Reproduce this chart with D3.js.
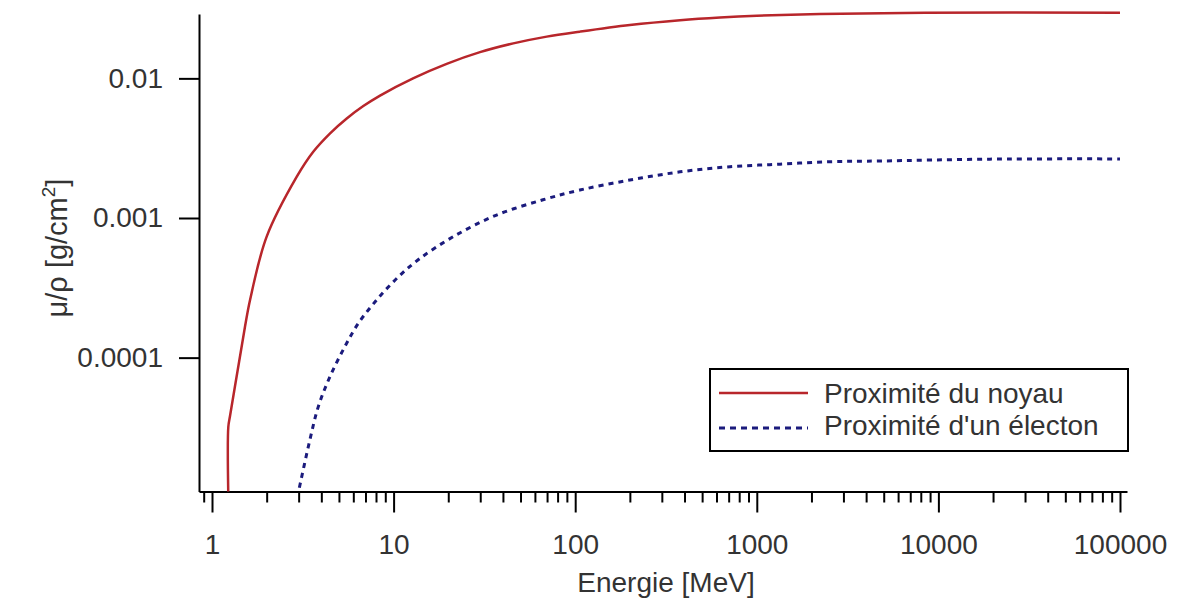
<!DOCTYPE html>
<html>
<head>
<meta charset="utf-8">
<script src="https://cdn.jsdelivr.net/npm/d3@7"></script>
<style>
  body { margin: 0; background: #fff; }
  text { font-family: "Liberation Sans", Arial, sans-serif; fill: #333; }
</style>
</head>
<body>
<div id="graph"></div>
<script>
var width = 1179;
var height = 601;

// energie [MeV] / mu/rho [g/cm2]
var noyauE  = [1.23, 1.23, 1.256, 1.395, 1.52, 1.62, 2.0, 2.93, 3.61, 4.47, 5.52, 6.81, 8.42, 12.8, 19.6, 29.9, 45.6, 69.7, 106, 200, 378, 627, 1000, 2230, 8440, 100000];
var noyauMu = [1.0e-5, 3.2e-5, 3.8e-5, 8.6e-5, 1.67e-4, 2.59e-4, 7.35e-4, 1.975e-3, 2.98e-3, 4.04e-3, 5.16e-3, 6.33e-3, 7.53e-3, 0.0100, 0.0127, 0.0154, 0.0178, 0.0199, 0.0216, 0.0241, 0.0261, 0.0273, 0.0281, 0.0289, 0.0295, 0.0295];

var electonE  = [2.95, 3.46, 3.85, 4.46, 5.39, 6.39, 7.89, 10.2, 13.6, 21.3, 36.9, 66.5, 106, 200, 378, 712, 1342, 2530, 4770, 19200, 100000];
var electonMu = [1.0e-5, 2.58e-5, 4.46e-5, 7.3e-5, 1.2e-4, 1.76e-4, 2.5e-4, 3.6e-4, 5.0e-4, 7.35e-4, 1.05e-3, 1.35e-3, 1.585e-3, 1.87e-3, 2.14e-3, 2.33e-3, 2.43e-3, 2.53e-3, 2.56e-3, 2.64e-3, 2.65e-3];

var xMajor = [1, 10, 100, 1000, 10000, 100000];
var xMinor = [0.9, 2, 3, 4, 5, 6, 7, 8, 9, 20, 30, 40, 50, 60, 70, 80, 90,
  200, 300, 400, 500, 600, 700, 800, 900, 2000, 3000, 4000, 5000, 6000, 7000, 8000, 9000,
  20000, 30000, 40000, 50000, 60000, 70000, 80000, 90000];
var yMajor = [0.01, 0.001, 0.0001];
var yLabels = ["0.01", "0.001", "0.0001"];

var legendNames = ["Proximité du noyau", "Proximité d'un électon"];
var red = "#b8262b";
var blue = "#1b1b7d";

// plot box (window.top is taken, so no "top" here)
var plotLeft = 199, plotRight = 1127, plotTop = 14, plotBottom = 491.5;

var svg = d3.select("#graph").append("svg")
  .attr("width", width)
  .attr("height", height);

var xScale = d3.scaleLog().domain([0.848, 109300]).range([plotLeft, plotRight]);
var yScale = d3.scaleLog().domain([1.1e-5, 0.0289]).range([plotBottom, plotTop]);

svg.append("clipPath").attr("id", "plotclip")
  .append("rect")
  .attr("x", plotLeft).attr("y", 0)
  .attr("width", plotRight - plotLeft).attr("height", plotBottom);

// x axis: minor ticks first, then majors with labels
var xMinorAxis = d3.axisBottom(xScale).tickValues(xMinor).tickSize(11).tickSizeOuter(0).tickFormat("");
var xMajorAxis = d3.axisBottom(xScale).tickValues(xMajor).tickSize(21).tickSizeOuter(0).tickPadding(22)
  .tickFormat(d3.format("d"));

svg.append("g")
  .attr("transform", "translate(0," + plotBottom + ")")
  .call(xMinorAxis)
  .call(function (g) { g.select(".domain").remove(); });

var gx = svg.append("g")
  .attr("transform", "translate(0," + plotBottom + ")")
  .call(xMajorAxis);

var yAxis = d3.axisLeft(yScale).tickValues(yMajor).tickSize(20).tickSizeOuter(0).tickPadding(16)
  .tickFormat(function (d, i) { return yLabels[i]; });
var gy = svg.append("g")
  .attr("transform", "translate(" + plotLeft + ",0)")
  .call(yAxis);

svg.selectAll(".domain, .tick line")
  .attr("stroke", "#000")
  .attr("stroke-width", 2);
svg.selectAll(".tick text")
  .attr("font-size", 28)
  .attr("fill", "#333")
  .style("font-family", "'Liberation Sans', Arial, sans-serif");

// axis titles
svg.append("text")
  .attr("x", 666)
  .attr("y", 592)
  .attr("text-anchor", "middle")
  .attr("font-size", 28)
  .text("Energie [MeV]");

var yTitle = svg.append("text")
  .attr("transform", "translate(67,248) rotate(-90)")
  .attr("text-anchor", "middle")
  .attr("font-size", 29);
yTitle.append("tspan").text("μ/ρ [g/cm");
yTitle.append("tspan").attr("font-size", 19).attr("dy", -12).text("2");
yTitle.append("tspan").attr("dy", 12).text("]");

// curves
var line = d3.line()
  .x(function (d) { return xScale(d[0]); })
  .y(function (d) { return yScale(d[1]); })
  .curve(d3.curveCatmullRom.alpha(0.5));

var plot = svg.append("g").attr("clip-path", "url(#plotclip)");

plot.append("path")
  .datum(d3.zip(noyauE, noyauMu))
  .attr("d", line)
  .attr("fill", "none")
  .attr("stroke", red)
  .attr("stroke-width", 2.5);

plot.append("path")
  .datum(d3.zip(electonE, electonMu))
  .attr("d", line)
  .attr("fill", "none")
  .attr("stroke", blue)
  .attr("stroke-width", 3)
  .attr("stroke-dasharray", "5,5");

// legend
var legend = svg.append("g");
legend.append("rect")
  .attr("x", 710).attr("y", 369)
  .attr("width", 418).attr("height", 82)
  .attr("fill", "#fff")
  .attr("stroke", "#000")
  .attr("stroke-width", 2);

var styles = [
  { color: red, dash: null, w: 2.5 },
  { color: blue, dash: "6,5", w: 3 }
];
legend.selectAll("line.key")
  .data(legendNames)
  .enter()
  .append("line")
  .attr("class", "key")
  .attr("x1", 719).attr("x2", 808)
  .attr("y1", function (d, i) { return 393 + i * 35; })
  .attr("y2", function (d, i) { return 393 + i * 35; })
  .attr("stroke", function (d, i) { return styles[i].color; })
  .attr("stroke-width", function (d, i) { return styles[i].w; })
  .attr("stroke-dasharray", function (d, i) { return styles[i].dash; });

legend.selectAll("text.key")
  .data(legendNames)
  .enter()
  .append("text")
  .attr("class", "key")
  .attr("x", 824)
  .attr("y", function (d, i) { return 403 + i * 32; })
  .attr("font-size", 28)
  .text(function (d) { return d; });
</script>
</body>
</html>
